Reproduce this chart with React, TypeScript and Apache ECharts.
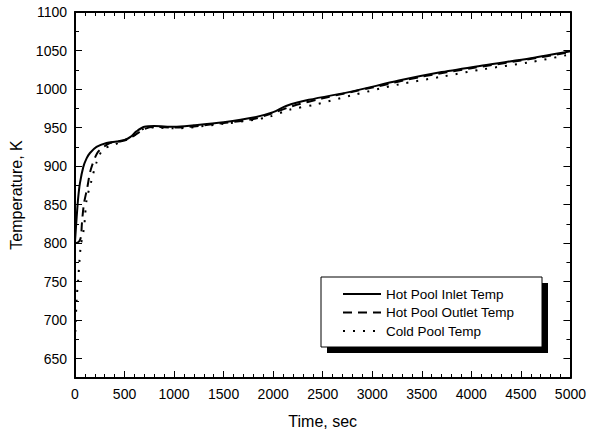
import React, { useEffect, useRef } from "react";
import * as echarts from "echarts";

const xTicks = [0, 500, 1000, 1500, 2000, 2500, 3000, 3500, 4000, 4500, 5000];
const yMajor = [650, 700, 750, 800, 850, 900, 950, 1000, 1050, 1100];
const yMinor = [625, 675, 725, 775, 825, 875, 925, 975, 1025, 1075];

const seriesNames = ["Hot Pool Inlet Temp", "Hot Pool Outlet Temp", "Cold Pool Temp"];

const inletTime = [0, 17, 33, 50, 84, 117, 151, 217, 318, 420, 500, 560, 620, 700, 800, 1000, 1200, 1500, 1800, 2000, 2130, 2360, 2800, 3268, 3700, 4133, 4600, 5000];
const inletTemp = [802, 834, 860, 878, 899, 910, 917, 925, 930, 932, 934, 938, 945, 951, 952, 951, 953, 957, 963, 970, 978, 986, 997, 1011, 1022, 1031, 1040, 1049];

const outletTime = [0, 40, 60, 70, 90, 124, 158, 225, 290, 352, 450, 520, 600, 700, 800, 1000, 1500, 1800, 2000, 2200, 2500, 3000, 3500, 4000, 4500, 5000];
const outletTemp = [800, 802, 808, 826, 851, 872, 895, 917, 925, 930, 932, 934, 940, 948, 951, 950, 956, 961, 969, 978, 988, 1002, 1016, 1027, 1037, 1048];

const coldTime = [0, 17, 33, 57, 90, 100, 117, 168, 218, 285, 385, 486, 570, 620, 670, 720, 800, 1000, 1500, 1800, 1960, 2162, 2430, 2800, 3268, 3700, 4133, 4600, 5000];
const coldTemp = [672, 728, 754, 795, 819, 832, 856, 882, 905, 922, 927, 933, 937, 942, 947, 950, 950, 949, 955, 960, 964, 973, 980, 992, 1006, 1016, 1026, 1035, 1045];

const zip = (a: number[], b: number[]) => a.map((v, i) => [v, b[i]]);

export default function App() {
  const ref = useRef<HTMLDivElement>(null);
  useEffect(() => {
    if (!ref.current) return;
    const chart = echarts.init(ref.current, null, { renderer: "svg" });
    const font = "'Liberation Sans', Arial, sans-serif";
    const black = "#000";
    const fmt = (v: number) => String(v);
    const baseX = {
      type: "value" as const,
      min: 0,
      max: 5000,
      interval: 500,
      splitLine: { show: false },
      axisLine: { show: true, onZero: false, lineStyle: { color: black, width: 2 } },
      axisTick: { show: true, inside: true, length: 7, lineStyle: { color: black, width: 1 } },
      minorTick: { show: true, splitNumber: 5, length: 4, lineStyle: { color: black, width: 1 } },
      minorSplitLine: { show: false },
    };
    const baseY = (position: "left" | "right", vals: number[], len: number, line: boolean, labels: boolean) => ({
      type: "value" as const,
      min: 625,
      max: 1100,
      position,
      splitLine: { show: false },
      axisLine: { show: line, onZero: false, lineStyle: { color: black, width: 2 } },
      axisTick: { show: true, inside: true, length: len, customValues: vals, lineStyle: { color: black, width: 1 } },
      axisLabel: labels
        ? { show: true, customValues: yMajor, formatter: fmt, color: black, fontSize: 14, fontFamily: font, margin: 8 }
        : { show: false },
    });
    chart.setOption({
      animation: false,
      backgroundColor: "#fff",
      grid: { left: 75, top: 12, right: 17, bottom: 61, containLabel: false },
      xAxis: [
        {
          ...baseX,
          position: "bottom",
          name: "Time, sec",
          nameLocation: "middle",
          nameGap: 35,
          nameTextStyle: { color: black, fontSize: 16, fontFamily: font },
          axisLabel: { show: true, formatter: fmt, color: black, fontSize: 14, fontFamily: font, margin: 9 },
        },
        { ...baseX, position: "top", axisLabel: { show: false } },
      ],
      yAxis: [
        {
          ...baseY("left", yMajor, 7, true, true),
          name: "Temperature, K",
          nameLocation: "middle",
          nameGap: 50,
          nameRotate: 90,
          nameTextStyle: { color: black, fontSize: 16, fontFamily: font },
        },
        baseY("left", yMinor, 4, false, false),
        baseY("right", yMajor, 7, true, false),
        baseY("right", yMinor, 4, false, false),
      ],
      legend: {
        orient: "vertical",
        left: 342,
        top: 287,
        z: 20,
        itemWidth: 38,
        itemHeight: 14,
        itemGap: 4.5,
        padding: 0,
        data: seriesNames,
        itemStyle: { opacity: 0 },
        textStyle: { color: black, fontSize: 13.5, fontFamily: font, padding: [0, 0, 0, 0] },
      },
      graphic: [
        { type: "rect", z: 5, shape: { x: 327, y: 283, width: 221, height: 70 }, style: { fill: black } },
        { type: "rect", z: 6, shape: { x: 321, y: 277, width: 221, height: 70 }, style: { fill: "#fff", stroke: black, lineWidth: 1 } },
      ],
      series: [
        {
          name: seriesNames[0],
          type: "line",
          data: zip(inletTime, inletTemp),
          symbol: "none",
          smooth: 0.3,
          lineStyle: { color: black, width: 2 },
          itemStyle: { color: black },
        },
        {
          name: seriesNames[1],
          type: "line",
          data: zip(outletTime, outletTemp),
          symbol: "none",
          smooth: 0.3,
          lineStyle: { color: black, width: 2, type: [9, 6] },
          itemStyle: { color: black },
        },
        {
          name: seriesNames[2],
          type: "line",
          data: zip(coldTime, coldTemp),
          symbol: "none",
          smooth: 0.3,
          lineStyle: { color: black, width: 2, type: [2, 8] },
          itemStyle: { color: black },
        },
      ],
    });
    return () => chart.dispose();
  }, []);
  return (
    <div
      ref={ref}
      style={{ position: "fixed", left: 0, top: 0, width: 589, height: 439, background: "#fff" }}
    />
  );
}
